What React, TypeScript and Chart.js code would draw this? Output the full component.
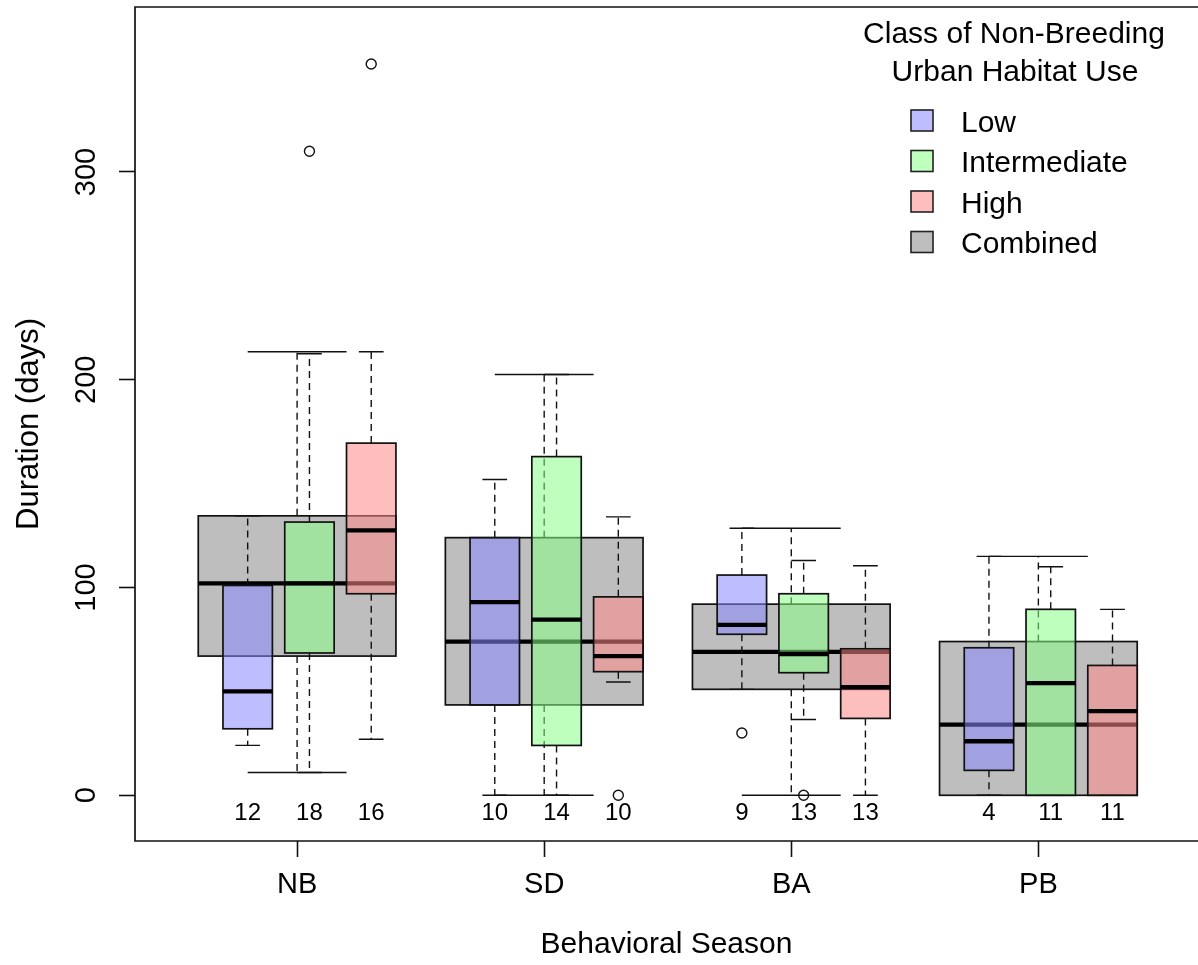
import React, { useEffect, useRef } from "react";
import { Chart, registerables } from "chart.js";

Chart.register(...registerables);

// ---------- data ----------
const seasons = ["NB", "SD", "BA", "PB"];
const classNames = ["Low", "Intermediate", "High", "Combined"];
const legendTitle = ["Class of Non-Breeding", "Urban Habitat Use"];

// [lower whisker, Q1, median, Q3, upper whisker] per season
const combinedStats = [
  [11, 67, 102, 134.5, 213.5],
  [0, 43.5, 74, 124, 202.5],
  [0, 51, 69, 92, 128.5],
  [0, 0, 34, 74, 115],
];
const lowStats = [
  [24, 32, 50, 101, 134.5],
  [0, 43.5, 93, 124, 152],
  [51, 77.5, 82, 106, 128.5],
  [0, 12, 26, 71, 115],
];
const intermediateStats = [
  [11, 68.5, 102, 131.5, 212.5],
  [0, 24, 84.5, 163, 202.5],
  [36.5, 59, 68, 97, 113],
  [0, 0, 54, 89.5, 110],
];
const highStats = [
  [27, 97, 127.5, 169.5, 213.5],
  [54.5, 59.5, 67, 95.5, 134],
  [0, 37, 52, 70.5, 110.5],
  [0, 0, 40.5, 62.5, 89.5],
];
const lowOutliers: number[][] = [[], [], [30], []];
const intermediateOutliers: number[][] = [[310], [], [0], []];
const highOutliers: number[][] = [[352], [0], [], []];
const lowCounts = [12, 10, 9, 4];
const intermediateCounts = [18, 14, 13, 11];
const highCounts = [16, 10, 13, 11];
const yTickValues = [0, 100, 200, 300];

// ---------- layout / style ----------
const FONT = "'Liberation Sans', Arial, Helvetica, sans-serif";
const classOffsets = [-0.2, 0.05, 0.3];
const classBoxWidth = 0.2;
const combinedBoxWidth = 0.8;
const classFills = [
  "rgba(136,136,255,0.55)",
  "rgba(136,255,136,0.55)",
  "rgba(255,136,136,0.55)",
];
const combinedFill = "#BEBEBE";
const LINE = "#111";

function drawBox(
  ctx: CanvasRenderingContext2D,
  xs: any,
  ys: any,
  center: number,
  width: number,
  stats: number[],
  fill: string
) {
  const [lo, q1, med, q3, hi] = stats;
  const xl = xs.getPixelForValue(center - width / 2);
  const xr = xs.getPixelForValue(center + width / 2);
  const xc = xs.getPixelForValue(center);
  const capL = xs.getPixelForValue(center - width / 4);
  const capR = xs.getPixelForValue(center + width / 4);
  const yLo = ys.getPixelForValue(lo);
  const yQ1 = ys.getPixelForValue(q1);
  const yMed = ys.getPixelForValue(med);
  const yQ3 = ys.getPixelForValue(q3);
  const yHi = ys.getPixelForValue(hi);

  ctx.save();
  ctx.lineCap = "butt";
  // whiskers (dashed)
  ctx.strokeStyle = LINE;
  ctx.lineWidth = 1.4;
  ctx.setLineDash([7, 5]);
  ctx.beginPath();
  ctx.moveTo(xc, yQ3);
  ctx.lineTo(xc, yHi);
  ctx.moveTo(xc, yQ1);
  ctx.lineTo(xc, yLo);
  ctx.stroke();
  // staples
  ctx.setLineDash([]);
  ctx.beginPath();
  ctx.moveTo(capL, yHi);
  ctx.lineTo(capR, yHi);
  ctx.moveTo(capL, yLo);
  ctx.lineTo(capR, yLo);
  ctx.stroke();
  // box
  ctx.fillStyle = fill;
  ctx.fillRect(xl, yQ3, xr - xl, yQ1 - yQ3);
  ctx.lineWidth = 1.7;
  ctx.strokeRect(xl, yQ3, xr - xl, yQ1 - yQ3);
  // median
  ctx.strokeStyle = "#000";
  ctx.lineWidth = 4.3;
  ctx.beginPath();
  ctx.moveTo(xl, yMed);
  ctx.lineTo(xr, yMed);
  ctx.stroke();
  ctx.restore();
}

const boxPlugin = {
  id: "boxes",
  beforeDatasetsDraw(chart: any) {
    const ctx = chart.ctx as CanvasRenderingContext2D;
    const xs = chart.scales.x;
    const ys = chart.scales.y;
    combinedStats.forEach((s, g) => drawBox(ctx, xs, ys, g + 1, combinedBoxWidth, s, combinedFill));
    [lowStats, intermediateStats, highStats].forEach((arr, k) => {
      arr.forEach((s, g) => drawBox(ctx, xs, ys, g + 1 + classOffsets[k], classBoxWidth, s, classFills[k]));
    });
  },
  afterDraw(chart: any) {
    const ctx = chart.ctx as CanvasRenderingContext2D;
    const xs = chart.scales.x;
    const ys = chart.scales.y;
    const { left, top, right, bottom } = chart.chartArea;
    ctx.save();
    // plot frame
    ctx.strokeStyle = LINE;
    ctx.lineWidth = 1.7;
    ctx.beginPath();
    ctx.moveTo(right + 2, top);
    ctx.lineTo(left, top);
    ctx.lineTo(left, bottom);
    ctx.lineTo(right + 2, bottom);
    ctx.stroke();

    // counts
    ctx.fillStyle = "#000";
    ctx.font = `24px ${FONT}`;
    ctx.textAlign = "center";
    ctx.textBaseline = "middle";
    const y0 = ys.getPixelForValue(0) + 18;
    [lowCounts, intermediateCounts, highCounts].forEach((arr, k) => {
      arr.forEach((n, g) => {
        ctx.fillText(String(n), xs.getPixelForValue(g + 1 + classOffsets[k]), y0);
      });
    });

    // legend
    ctx.font = `30px ${FONT}`;
    ctx.textBaseline = "alphabetic";
    ctx.textAlign = "center";
    ctx.fillText(legendTitle[0], 1014, 43);
    ctx.fillText(legendTitle[1], 1015, 81);
    ctx.textAlign = "left";
    const swatchFills = [...classFills, combinedFill];
    classNames.forEach((name, i) => {
      const cy = 120.5 + i * 40.5;
      ctx.fillStyle = "#fff";
      ctx.fillRect(911, cy - 10.5, 22, 21);
      ctx.fillStyle = swatchFills[i];
      ctx.fillRect(911, cy - 10.5, 22, 21);
      ctx.strokeStyle = "#222";
      ctx.lineWidth = 1.6;
      ctx.strokeRect(911, cy - 10.5, 22, 21);
      ctx.fillStyle = "#000";
      ctx.fillText(name, 961, cy + 11);
    });
    ctx.restore();
  },
};

export default function App() {
  const ref = useRef<HTMLCanvasElement | null>(null);
  useEffect(() => {
    if (!ref.current) return;
    const outlierPoints: { x: number; y: number }[] = [];
    [lowOutliers, intermediateOutliers, highOutliers].forEach((arr, k) =>
      arr.forEach((vals, g) =>
        vals.forEach((v) => outlierPoints.push({ x: g + 1 + classOffsets[k], y: v }))
      )
    );
    const zeroPad = (s: any) => {
      s.paddingTop = 0;
      s.paddingBottom = 0;
      s.paddingLeft = 0;
      s.paddingRight = 0;
    };
    const chart = new Chart(ref.current, {
      type: "scatter",
      data: {
        datasets: [
          {
            label: "Outliers",
            data: outlierPoints,
            pointRadius: 5,
            pointHoverRadius: 5,
            pointBorderWidth: 1.4,
            pointBorderColor: "#111",
            pointBackgroundColor: "rgba(0,0,0,0)",
            showLine: false,
          },
        ],
      },
      options: {
        responsive: false,
        animation: false,
        devicePixelRatio: 1,
        events: [],
        layout: { autoPadding: false, padding: { top: 7, right: 0, left: 0, bottom: 0 } },
        plugins: { legend: { display: false }, tooltip: { enabled: false } },
        scales: {
          x: {
            type: "linear",
            min: 0.344,
            max: 4.646,
            afterBuildTicks: (s: any) => {
              s.ticks = seasons.map((_, i) => ({ value: i + 1 }));
            },
            afterFit: (s: any) => {
              s.height = 124;
              zeroPad(s);
            },
            ticks: {
              autoSkip: false,
              minRotation: 0,
              maxRotation: 0,
              padding: 11,
              color: "#000",
              font: { family: FONT, size: 29 },
              callback: (v: any) => seasons[Math.round(Number(v)) - 1] ?? "",
            },
            grid: { drawOnChartArea: false, drawTicks: true, tickLength: 16, tickColor: "#111", tickWidth: 1.6 },
            border: { display: false },
            title: {
              display: true,
              text: "Behavioral Season",
              color: "#000",
              font: { family: FONT, size: 30 },
              padding: { top: 0, bottom: 2 },
            },
          },
          y: {
            type: "linear",
            min: -22,
            max: 379.4,
            afterBuildTicks: (s: any) => {
              s.ticks = yTickValues.map((v) => ({ value: v }));
            },
            afterFit: (s: any) => {
              s.width = 135;
              zeroPad(s);
            },
            ticks: {
              autoSkip: false,
              minRotation: 90,
              maxRotation: 90,
              crossAlign: "center",
              padding: 8,
              color: "#000",
              font: { family: FONT, size: 29 },
              callback: (v: any) => String(v),
            },
            grid: { drawOnChartArea: false, drawTicks: true, tickLength: 16, tickColor: "#111", tickWidth: 1.6 },
            border: { display: false },
            title: {
              display: true,
              text: "Duration (days)",
              color: "#000",
              font: { family: FONT, size: 31 },
              padding: { top: 11, bottom: 0 },
            },
          },
        },
      },
      plugins: [boxPlugin],
    } as any);
    return () => chart.destroy();
  }, []);

  return (
    <div style={{ position: "absolute", left: 0, top: 0, width: 1198, height: 965, background: "#fff" }}>
      <canvas ref={ref} width={1198} height={965} style={{ display: "block" }} />
    </div>
  );
}
